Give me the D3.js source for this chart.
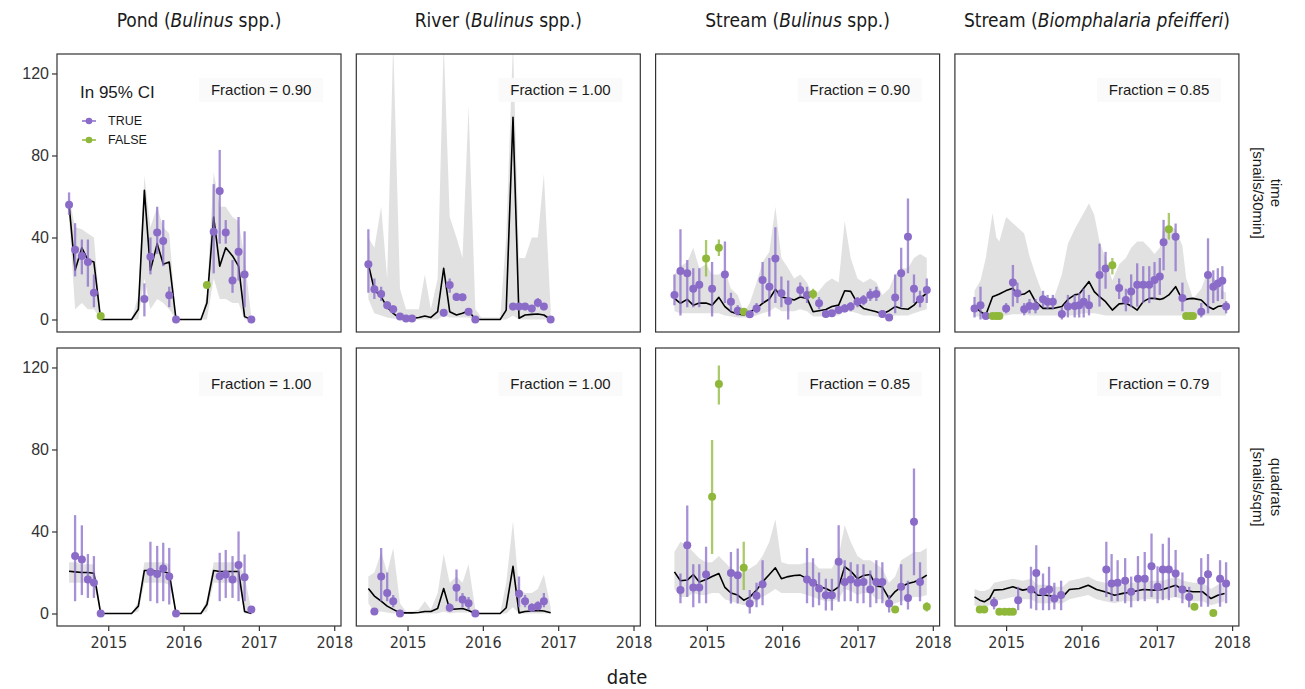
<!DOCTYPE html>
<html lang="en">
<head>
<meta charset="UTF-8">
<title>Snail density: observed vs fitted</title>
<style>
  body { margin: 0; background: #fff; }
  #CHART { display: block; font-family: "Liberation Sans", Arial, sans-serif; }
  #CHART .strip { font-family: "DejaVu Sans Condensed", "DejaVu Sans", sans-serif; font-size: 19px; fill: #1a1a1a; }
  #CHART .xaxis text { font-family: "DejaVu Sans Condensed", "DejaVu Sans", sans-serif; font-size: 16px; fill: #333; }
  #CHART .yaxis text { font-size: 16px; fill: #333; }
  #CHART .axis-title { font-family: "DejaVu Sans Condensed", "DejaVu Sans", sans-serif; font-size: 20px; fill: #1a1a1a; }
  #CHART .frac { font-size: 15px; fill: #1a1a1a; }
  #CHART .rowlab { font-size: 15px; fill: #1a1a1a; }
</style>
</head>
<body>
<svg id="CHART"></svg>
<script src="https://cdnjs.cloudflare.com/ajax/libs/d3/7.8.5/d3.min.js"></script>
<script>
// ------------------------------------------------------------------
// data  (date as decimal year)
// observations: [date, value, lower, upper, inCI]
// fitted:       [date, mean, lower95, upper95]

const yearTicks = [2015, 2016, 2017, 2018];
const yTicks = [0, 40, 80, 120];

const sites = ["Pond", "River", "Stream", "Stream"];
const taxonItalic = ["Bulinus", "Bulinus", "Bulinus", "Biomphalaria pfeifferi"];
const taxonPlain = [" spp.", " spp.", " spp.", ""];
const rowNames = ["time", "quadrats"];
const rowUnits = ["[snails/30min]", "[snails/sqm]"];
const fracTime = [0.90, 1.00, 0.90, 0.85];
const fracQuad = [1.00, 1.00, 0.85, 0.79];
const legendKeys = ["TRUE", "FALSE"];

const pondTimeObs = [
  [2014.48,56,51,62,1],[2014.56,34,21,47,1],[2014.65,31,22,39,1],[2014.73,28,16,39,1],
  [2014.81,13,6,22,1],[2014.90,1.7,1.7,1.7,0],[2015.48,10,1.5,17.6,1],[2015.56,30.6,22,40,1],
  [2015.65,42.4,32,55,1],[2015.73,38.3,26,48.5,1],[2015.81,11.8,6,16,1],[2015.90,0,0,0,1],
  [2016.31,16.8,16.8,16.8,0],[2016.40,42.8,22.5,66,1],[2016.48,62.7,37,82.7,1],[2016.56,42.4,37,48.5,1],
  [2016.65,19,13,29,1],[2016.73,33,19,50,1],[2016.81,22,6,43,1],[2016.90,0,0,0,1]
];
const pondTimeFit = [
  [2014.48,56,50,60],[2014.56,24,5,45],[2014.65,35,8,44],[2014.73,29,5,42],[2014.81,28,5,40],
  [2014.90,0,0,0.5],[2014.98,0,0,0],[2015.06,0,0,0],[2015.15,0,0,0],[2015.23,0,0,0],
  [2015.31,0,0,0],[2015.40,5,0,12],[2015.48,63,20,70],[2015.56,24,5,45],[2015.65,37,10,55],
  [2015.73,27,8,45],[2015.81,28,5,42],[2015.90,0,0,1],[2015.98,0,0,0],[2016.06,0,0,0],
  [2016.15,0,0,0],[2016.23,0,0,0],[2016.31,8,0,12],[2016.40,50,20,72],[2016.48,26,10,55],
  [2016.56,35,10,55],[2016.65,31,8,50],[2016.73,26,8,48],[2016.81,1.4,0,30],[2016.90,0,0,1]
];
const pondQuadObs = [
  [2014.56,28,6,48,1],[2014.65,26.3,9,43,1],[2014.73,16.6,7.6,29,1],[2014.81,15,7.6,28,1],
  [2014.90,0,0,0,1],[2015.56,20.3,6,35,1],[2015.65,19.3,5,33,1],[2015.73,22,6,34.5,1],
  [2015.81,18,4.4,32,1],[2015.90,0,0,0,1],[2016.48,18.2,6,29.6,1],[2016.56,19,7.6,31,1],
  [2016.65,16.6,7.6,28,1],[2016.73,23.6,6,40,1],[2016.81,17.7,6,28.8,1],[2016.90,2,0.5,3,1]
];
const pondQuadFit = [
  [2014.48,20.6,15,25],[2014.56,20.3,15,25],[2014.65,20,15,24],[2014.73,20,15,24],[2014.81,19.6,14,24],
  [2014.90,0,0,1],[2014.98,0,0,0],[2015.06,0,0,0],[2015.15,0,0,0],[2015.23,0,0,0],
  [2015.31,0,0,0],[2015.40,3.6,1,6],[2015.48,21,15,25],[2015.56,21,15,25],[2015.65,20.5,15,25],
  [2015.73,20.5,15,25],[2015.81,19.5,14,24],[2015.90,0,0,1],[2015.98,0,0,0],[2016.06,0,0,0],
  [2016.15,0,0,0],[2016.23,0,0,0],[2016.31,4.4,1,7],[2016.40,21,15,25],[2016.48,20.5,15,25],
  [2016.56,20.5,15,25],[2016.65,20.5,15,25],[2016.73,20.5,15,25],[2016.81,1,0,18],[2016.90,0,0,2]
];

const riverTimeObs = [
  [2014.48,27,13,44,1],[2014.56,14.7,10,20,1],[2014.65,12.4,9,16,1],[2014.73,7,5,9,1],
  [2014.81,5,3,7,1],[2014.90,1.4,0.5,2.5,1],[2014.98,0.5,0,1,1],[2015.06,0.5,0,1,1],
  [2015.48,3.3,1.5,5,1],[2015.56,16.8,13,20,1],[2015.65,11,9,13,1],[2015.73,10.8,9,12.5,1],
  [2015.81,3.8,2,5.5,1],[2015.90,0,0,0,1],[2016.40,6.3,4.5,8,1],[2016.48,6.3,4.5,8,1],
  [2016.56,6.3,4.5,8,1],[2016.65,5.4,3.5,7,1],[2016.73,8.2,6,10.5,1],[2016.81,6.3,4.5,8,1],
  [2016.90,0,0,0,1]
];
const riverTimeFit = [
  [2014.48,27,10,40],[2014.56,14.4,3,35],[2014.65,11,2,55],[2014.73,6,1,20],[2014.81,3,0.5,135],
  [2014.90,0.5,0,15],[2014.98,0.5,0,5],[2015.06,0.5,0,5],[2015.15,1,0,5],[2015.23,1.7,0,22],
  [2015.31,1,0,5],[2015.40,3.8,0,20],[2015.48,25,2,135],[2015.56,3.8,1,50],[2015.65,2.2,1,40],
  [2015.73,3,1,30],[2015.81,4.3,1,104],[2015.90,0,0,5],[2015.98,0,0,1],[2016.06,0,0,1],
  [2016.15,0,0,1],[2016.23,0,0,1],[2016.31,4.6,0,40],[2016.40,98.6,2,135],[2016.48,0.6,0,30],
  [2016.56,2.2,0,30],[2016.65,2.5,0,40],[2016.73,2.7,0,40],[2016.81,2.2,0,71],[2016.90,0,0,5]
];
const riverQuadObs = [
  [2014.56,1,0.3,2,1],[2014.65,18,6,32,1],[2014.73,10,6,20,1],[2014.81,6,3,9,1],
  [2014.90,0,0,0,1],[2015.56,2.8,1,5,1],[2015.65,12.5,6,21.5,1],[2015.73,6.8,3,10,1],
  [2015.81,5,2,8,1],[2015.90,0,0,0,1],[2016.48,9.6,3,18,1],[2016.56,6,3,9,1],
  [2016.65,2.8,1,5,1],[2016.73,3.6,1.5,6,1],[2016.81,6,3,10,1]
];
const riverQuadFit = [
  [2014.48,12.2,5,18],[2014.56,8.5,0.5,20],[2014.65,6,1,30],[2014.73,3.6,0.5,20],[2014.81,2,0,32],
  [2014.90,0.3,0,5],[2014.98,0.3,0,1],[2015.06,0.3,0,1],[2015.15,0.5,0,2],[2015.23,1,0,6],
  [2015.31,1,0,2],[2015.40,2.4,0,10],[2015.48,12.2,1,29],[2015.56,2,0,15],[2015.65,2.2,0.5,18],
  [2015.73,2.4,0.5,15],[2015.81,1.5,0.5,24],[2015.90,0,0,2],[2015.98,0,0,0],[2016.06,0,0,0],
  [2016.15,0,0,0],[2016.23,0,0,0],[2016.31,2.8,0,15],[2016.40,23,3,45],[2016.48,0.3,0,12],
  [2016.56,1,0,10],[2016.65,1.2,0,10],[2016.73,1.5,0,12],[2016.81,1.2,0,19],[2016.90,0.4,0,3]
];

const bulTimeObs = [
  [2014.57,12,7,22,1],[2014.65,23.7,2,44,1],[2014.74,22.5,6,29,1],[2014.82,15,6,25,1],
  [2014.90,17,6,25,1],[2014.99,29.8,21,38.8,0],[2015.07,15,1.4,28,1],[2015.16,35,31,39,0],
  [2015.24,22,8,38,1],[2015.32,8.7,4,13,1],[2015.41,4.3,2,7,1],[2015.49,3.8,2.5,5,0],
  [2015.57,2.5,1,4,1],[2015.66,5.4,3,8,1],[2015.74,19.3,8,28,1],[2015.83,16,1.4,30,1],
  [2015.91,29.8,8,45,1],[2015.99,12.8,6,21,1],[2016.08,9,0,19,1],[2016.24,14.4,11,18,1],
  [2016.33,12,8,16,1],[2016.41,12.4,10,15,0],[2016.49,7.9,5,11,1],[2016.58,2.7,1,4.5,1],
  [2016.66,3,1.5,4.5,1],[2016.75,4.6,3,6.5,1],[2016.83,5.4,3.5,7.5,1],[2016.91,6.3,4,8.5,1],
  [2017.00,8.7,6,11,1],[2017.08,9.5,7,12,1],[2017.17,12,9,15,1],[2017.25,12.4,9,16,1],
  [2017.33,2.7,1,4.5,1],[2017.42,1,0.3,2,1],[2017.50,10.7,3,22,1],[2017.58,22.5,6,35,1],
  [2017.67,40.4,22.5,59,1],[2017.75,15,8,22,1],[2017.83,9.9,6,14,1],[2017.92,14.4,8,20,1]
];
const bulTimeFit = [
  [2014.57,10.3,4,22],[2014.65,7.9,3,26],[2014.74,9.8,3,28],[2014.82,7,3,35],[2014.90,8,3,25],
  [2014.99,8,3,27],[2015.07,7,3,22],[2015.16,10.8,3,22],[2015.24,6.3,2,24],[2015.32,3.8,1.5,15],
  [2015.41,2.7,1,12],[2015.49,2.2,1,3.5],[2015.57,3.7,1,8],[2015.66,5.4,2,18],[2015.74,7.9,3,28],
  [2015.83,10,4,33],[2015.91,14.7,6,55],[2015.99,11,4,30],[2016.08,10.3,4,25],[2016.16,9.5,4,20],
  [2016.24,11,5,22],[2016.33,10.3,4,18],[2016.41,3.8,1.5,11],[2016.49,4.3,1.5,14],[2016.58,4.9,1.5,18],
  [2016.66,6.3,2,20],[2016.75,7,2,18],[2016.83,14,4,48],[2016.91,13.7,4,30],[2017.00,7.9,3,20],
  [2017.08,5.4,2,18],[2017.17,4.5,2,20],[2017.25,3.8,1.5,18],[2017.33,2.7,1,12],[2017.42,4.3,0.8,15],
  [2017.50,6.3,2,22],[2017.58,5.4,2,25],[2017.67,5,2,25],[2017.75,7,3,30],[2017.83,10.3,4,32],
  [2017.92,12.8,5,30]
];
const bulQuadObs = [
  [2014.65,11.4,5,19.5,1],[2014.74,33.3,8,52.7,1],[2014.82,12.7,3,24,1],[2014.90,12.7,5,24,1],
  [2014.99,19,5,32.5,1],[2015.07,57,29,84.6,0],[2015.16,112,102,121,0],[2015.32,19.8,4.9,30,1],
  [2015.41,18.7,4.9,31.7,1],[2015.49,22.3,11.4,35,0],[2015.57,4.9,0,11.4,1],[2015.66,8.6,3,15,1],
  [2015.74,14.3,4,26,1],[2016.33,16.6,5,32,1],[2016.41,15,3,27,1],[2016.49,12.2,4,20,1],
  [2016.58,8.9,1.5,17,1],[2016.66,8.9,1.5,17,1],[2016.75,25.2,5.7,43,1],[2016.83,15.4,6,26,1],
  [2016.91,16.6,6,25,1],[2017.00,15,5,24,1],[2017.08,15.4,5,24,1],[2017.17,11.7,3,21,1],
  [2017.25,15.4,5,26,1],[2017.33,15.4,5,25,1],[2017.42,4.9,0.5,9,1],[2017.50,2,1,3,0],
  [2017.58,13,4,24,1],[2017.67,7.6,2,16,1],[2017.75,44.7,18.7,70.7,1],[2017.83,15.4,6,25,1],
  [2017.92,3.3,1,5.5,0]
];
const bulQuadFit = [
  [2014.57,20.3,12,30],[2014.65,16,8,35],[2014.74,16.3,8,33],[2014.82,19,10,30],[2014.90,15.4,9,27],
  [2014.99,16.6,9,25],[2015.07,18,10,25],[2015.16,19.5,10,28],[2015.24,12.7,7,25],[2015.32,10,6,22],
  [2015.41,9,5,20],[2015.49,6.5,4,20],[2015.57,8,4,22],[2015.66,11.4,6,24],[2015.74,15.4,8,28],
  [2015.83,19,10,35],[2015.91,22.3,12,46],[2015.99,17,10,25],[2016.08,18,10,24],[2016.16,18.5,10,24],
  [2016.24,18.7,10,24],[2016.33,17,9,25],[2016.41,15.4,8,25],[2016.49,13,7,22],[2016.58,12.2,6,22],
  [2016.66,10.7,6,22],[2016.75,13,7,28],[2016.83,22.8,12,43],[2016.91,20.7,11,35],[2017.00,17,9,28],
  [2017.08,18.5,10,26],[2017.17,19,10,26],[2017.25,13.4,7,24],[2017.33,13,7,22],[2017.42,7.3,3,15],
  [2017.50,10.7,5,18],[2017.58,13,6,26],[2017.67,14.6,7,28],[2017.75,15.4,8,30],[2017.83,16.6,8,30],
  [2017.92,18.7,9,32]
];

const bioTimeObs = [
  [2014.58,5.4,1,11,1],[2014.66,7,0,16,1],[2014.73,1.7,0.5,3,1],[2014.82,1.7,1,2.5,0],
  [2014.87,1.7,1,2.5,0],[2014.91,1.7,1,2.5,0],[2015.00,5.4,3,8,1],[2015.09,18,6.3,26.6,1],
  [2015.15,12.8,8,18,1],[2015.24,5,2,8,1],[2015.31,6.6,3,10,1],[2015.39,6.3,3,10,1],
  [2015.49,9.9,6,14,1],[2015.55,8.7,5,12,1],[2015.62,8.7,5,12,1],[2015.74,2.7,0,6,1],
  [2015.82,6.3,1,12,1],[2015.91,6.6,1,12,1],[2015.97,7,1,13,1],[2016.03,8.7,1,15,1],
  [2016.10,7,2,12,1],[2016.24,21.7,6.3,37,1],[2016.32,24.9,15,33,1],[2016.41,26.4,22,30,0],
  [2016.50,15.4,10,20,1],[2016.59,9.5,4,15,1],[2016.66,13.7,6,22,1],[2016.74,17,6.3,27.4,1],
  [2016.82,17,8,26,1],[2016.90,17,8,26,1],[2016.97,19.3,10,28,1],[2017.04,21,12,30,1],
  [2017.09,37.7,24,48.6,1],[2017.16,44,39,52,0],[2017.25,40.4,23.5,46.8,1],[2017.34,10.5,4,18,1],
  [2017.39,1.7,1,2.5,0],[2017.44,1.7,1,2.5,0],[2017.48,1.7,1,2.5,0],[2017.59,3.8,1,8,1],
  [2017.68,21.7,3,39.6,1],[2017.75,16,8,24,1],[2017.81,17.6,9,25,1],[2017.87,18.9,10,26,1],
  [2017.92,6.3,3,9,1]
];
const bioTimeFit = [
  [2014.58,6.3,1.5,14],[2014.66,3.8,1.5,19],[2014.73,2.2,1.5,30],[2014.82,11.1,2,52],[2014.87,11.8,2,40],
  [2014.91,12.4,2,38],[2015.00,14.1,2,50],[2015.09,15.2,2.5,47],[2015.15,11.8,2.5,45],[2015.24,12.4,2.5,42],
  [2015.31,14.1,2,31],[2015.39,8.7,2,22],[2015.49,5.4,2,12],[2015.55,5.4,2,9],[2015.62,5.4,2,9],
  [2015.74,6.3,2,22],[2015.82,9.8,2,37],[2015.91,12,2,44],[2015.97,12.4,2.5,48],[2016.03,15.2,3,52],
  [2016.10,18.5,3,56.7],[2016.17,13.6,3,51],[2016.24,11.1,2.5,38],[2016.32,8.7,2,30],[2016.41,4.6,2,19],
  [2016.50,7.6,2,27],[2016.59,7.9,2,30],[2016.66,6.6,2,35],[2016.74,4.6,2,38],[2016.82,8.7,2,38],
  [2016.90,10.3,2,35],[2016.97,10.3,2,32],[2017.04,9.8,2,35],[2017.09,10.3,2,45],[2017.16,12,2,46],
  [2017.25,16,2,44],[2017.34,9.4,2,36],[2017.39,9.8,2,20],[2017.44,10.2,2,15],[2017.48,10.3,2,10],
  [2017.59,9.5,2,15],[2017.68,6.3,2,24],[2017.75,5,2,20],[2017.81,6.3,2,18],[2017.87,6.7,2,14],
  [2017.92,7.1,2,13]
];
const bioQuadObs = [
  [2014.65,2,1,3,0],[2014.71,2,1,3,0],[2014.84,5.2,2,8,1],[2014.91,0.8,0.3,1.3,0],
  [2014.98,0.8,0.3,1.3,0],[2015.04,0.8,0.3,1.3,0],[2015.09,0.8,0.3,1.3,0],[2015.16,6.5,1.6,13,1],
  [2015.33,11.7,2.4,22.8,1],[2015.40,19.8,1.6,33.3,1],[2015.49,10.6,1.6,19.5,1],[2015.57,11.7,1.6,22.8,1],
  [2015.64,7.3,2,15,1],[2015.73,9,1.6,16,1],[2016.33,21.5,8,35,1],[2016.40,14.6,6,29,1],
  [2016.48,15,6,26,1],[2016.58,16,5,27,1],[2016.66,10.6,3,18,1],[2016.75,17,6,28,1],
  [2016.84,17,6,30,1],[2016.93,23,8,39,1],[2017.01,13,5,23,1],[2017.08,21.5,6.5,34,1],
  [2017.16,21.5,6.5,37,1],[2017.25,19.5,8,31,1],[2017.34,11.7,5,20,1],[2017.43,8.1,3,13,1],
  [2017.50,3.3,2,5,0],[2017.59,16,3.3,27,1],[2017.68,19.2,3.3,29,1],[2017.75,0.3,0,0.6,0],
  [2017.84,17,3.3,26,1],[2017.92,14.6,5,25,1]
];
const bioQuadFit = [
  [2014.58,8.1,4,12],[2014.65,6.5,3,11],[2014.71,5.7,3,11],[2014.78,7.3,4,12],[2014.84,11.4,6,15],
  [2014.96,11.7,7,16],[2015.09,13,8,17],[2015.22,11.4,7,16],[2015.33,12.2,7,17],[2015.42,8.9,5,14],
  [2015.53,8.9,5,14],[2015.66,8.1,5,13],[2015.75,8.1,5,13],[2015.84,11.7,7,16],[2015.97,12.2,8,17],
  [2016.09,13.8,9,18],[2016.20,11.7,7,16],[2016.31,10.6,6,15],[2016.44,8.9,5,14],[2016.55,9.8,6,14],
  [2016.68,10.6,6,15],[2016.82,11.7,7,16],[2016.95,11.4,7,16],[2017.08,11.7,7,16],[2017.25,13.8,8,18],
  [2017.35,11.4,7,16],[2017.48,10.6,6,15],[2017.61,10.6,6,15],[2017.72,7.3,4,12],[2017.81,8.9,5,14],
  [2017.90,9.8,6,15]
];

// ------------------------------------------------------------------
// layout

const width = 1305, height = 689;
const panelW = 284, panelH = 278;
const colX = c => 57 + c * 299.3;
const rowY = r => 54 + r * 294;

const purple = "#8a6cc8";
const green = "#8fb83a";
const colorOf = d => d[4] ? purple : green;

const svg = d3.select("#CHART")
  .attr("width", width)
  .attr("height", height)
  .attr("viewBox", [0, 0, width, height]);

svg.append("rect").attr("width", width).attr("height", height).attr("fill", "#fff");

const x = d3.scaleLinear().domain([2014.32, 2018.09]).range([0, panelW]);
const y = d3.scaleLinear().domain([-6.1, 129.5]).range([panelH, 0]);

const ribbon = d3.area()
  .x(d => x(d[0]))
  .y0(d => y(d[2]))
  .y1(d => y(d[3]));

const fitLine = d3.line()
  .x(d => x(d[0]))
  .y(d => y(d[1]));

const panels = [
  { row: 0, col: 0, obs: pondTimeObs, fit: pondTimeFit, frac: fracTime[0] },
  { row: 0, col: 1, obs: riverTimeObs, fit: riverTimeFit, frac: fracTime[1] },
  { row: 0, col: 2, obs: bulTimeObs, fit: bulTimeFit, frac: fracTime[2] },
  { row: 0, col: 3, obs: bioTimeObs, fit: bioTimeFit, frac: fracTime[3] },
  { row: 1, col: 0, obs: pondQuadObs, fit: pondQuadFit, frac: fracQuad[0] },
  { row: 1, col: 1, obs: riverQuadObs, fit: riverQuadFit, frac: fracQuad[1] },
  { row: 1, col: 2, obs: bulQuadObs, fit: bulQuadFit, frac: fracQuad[2] },
  { row: 1, col: 3, obs: bioQuadObs, fit: bioQuadFit, frac: fracQuad[3] }
];

panels.forEach(p => {
  const g = svg.append("g")
    .attr("transform", `translate(${colX(p.col)},${rowY(p.row)})`);

  const clipId = `clip-${p.row}-${p.col}`;
  g.append("clipPath").attr("id", clipId)
    .append("rect").attr("width", panelW).attr("height", panelH);

  const inner = g.append("g").attr("clip-path", `url(#${clipId})`);

  inner.append("path")
    .datum(p.fit)
    .attr("d", ribbon)
    .attr("fill", "#d4d4d4")
    .attr("fill-opacity", 0.7);

  inner.append("path")
    .datum(p.fit)
    .attr("d", fitLine)
    .attr("fill", "none")
    .attr("stroke", "#000")
    .attr("stroke-width", 1.6)
    .attr("stroke-linejoin", "round");

  inner.selectAll("line.err")
    .data(p.obs.filter(d => d[3] > d[2]))
    .join("line")
    .attr("class", "err")
    .attr("x1", d => x(d[0]))
    .attr("x2", d => x(d[0]))
    .attr("y1", d => y(d[2]))
    .attr("y2", d => y(d[3]))
    .attr("stroke", colorOf)
    .attr("stroke-opacity", 0.75)
    .attr("stroke-width", 2.3);

  inner.selectAll("circle.obs")
    .data(p.obs)
    .join("circle")
    .attr("class", "obs")
    .attr("cx", d => x(d[0]))
    .attr("cy", d => y(d[1]))
    .attr("r", 4)
    .attr("fill", colorOf);

  // fraction label (very faint box, like the reference)
  const lab = g.append("g")
    .attr("transform", `translate(${x(2017.03)},${y(112)})`);
  lab.append("rect")
    .attr("x", -62).attr("y", -12)
    .attr("width", 124).attr("height", 24)
    .attr("fill", "#fafafa");
  lab.append("text")
    .attr("class", "frac")
    .attr("text-anchor", "middle")
    .attr("dy", "0.35em")
    .text(`Fraction = ${p.frac.toFixed(2)}`);

  g.append("rect")
    .attr("width", panelW)
    .attr("height", panelH)
    .attr("fill", "none")
    .attr("stroke", "#333")
    .attr("stroke-width", 1.2);

  if (p.col === 0) {
    const ya = g.append("g").attr("class", "yaxis")
      .call(d3.axisLeft(y).tickValues(yTicks).tickSize(5).tickPadding(3));
    ya.select(".domain").remove();
    ya.selectAll(".tick line").attr("stroke", "#333").attr("stroke-width", 1.2);
  }
  if (p.row === 1) {
    const xa = g.append("g").attr("class", "xaxis")
      .attr("transform", `translate(0,${panelH})`)
      .call(d3.axisBottom(x).tickValues(yearTicks).tickFormat(d3.format("d")).tickSize(5).tickPadding(6));
    xa.select(".domain").remove();
    xa.selectAll(".tick line").attr("stroke", "#333").attr("stroke-width", 1.2);
  }
});

// column strips
sites.forEach((s, i) => {
  const t = svg.append("text")
    .attr("class", "strip")
    .attr("x", colX(i) + panelW / 2)
    .attr("y", 27)
    .attr("text-anchor", "middle");
  t.append("tspan").text(`${s} (`);
  t.append("tspan").attr("font-style", "italic").text(taxonItalic[i]);
  t.append("tspan").text(`${taxonPlain[i]})`);
});

// row strips
rowNames.forEach((r, i) => {
  const g = svg.append("g")
    .attr("transform", `translate(1266,${rowY(i) + panelH / 2}) rotate(90)`);
  g.append("text").attr("class", "rowlab")
    .attr("text-anchor", "middle").attr("y", -5).text(r);
  g.append("text").attr("class", "rowlab")
    .attr("text-anchor", "middle").attr("y", 13).text(rowUnits[i]);
});

// x title
svg.append("text")
  .attr("class", "axis-title")
  .attr("x", 627)
  .attr("y", 684)
  .attr("text-anchor", "middle")
  .text("date");

// legend inside first panel
const leg = svg.append("g").attr("transform", `translate(${colX(0)},${rowY(0)})`);
leg.append("text")
  .attr("x", 23).attr("y", 44)
  .attr("font-size", 17)
  .attr("fill", "#1a1a1a")
  .text("In 95% CI");
legendKeys.forEach((k, i) => {
  const ky = 67 + i * 19;
  const c = i === 0 ? purple : green;
  leg.append("line")
    .attr("x1", 25).attr("x2", 39).attr("y1", ky).attr("y2", ky)
    .attr("stroke", c).attr("stroke-width", 2).attr("stroke-opacity", 0.75);
  leg.append("circle").attr("cx", 32).attr("cy", ky).attr("r", 3.3).attr("fill", c);
  leg.append("text")
    .attr("x", 51).attr("y", ky).attr("dy", "0.35em")
    .attr("font-size", 12.5).attr("fill", "#1a1a1a")
    .text(k);
});
</script>
</body>
</html>
